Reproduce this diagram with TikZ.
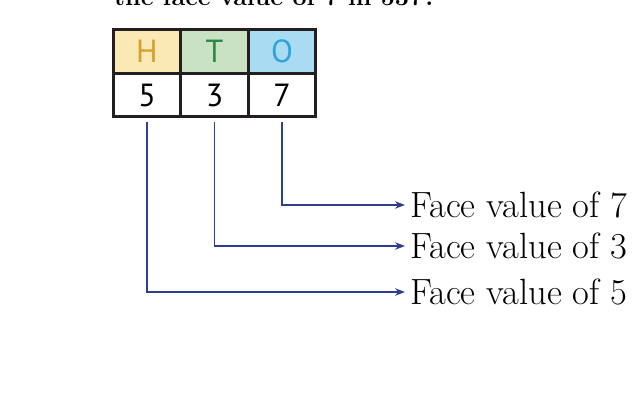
\documentclass[tikz,border=0pt]{standalone}
\usepackage{fontspec}
\newfontfamily\cellfont{PT Sans}
\usetikzlibrary{arrows.meta}

\definecolor{cellline}{HTML}{231F20}
\definecolor{hfill}{HTML}{FBE9B5}
\definecolor{htext}{HTML}{D4A02A}
\definecolor{tfill}{HTML}{C8E2C3}
\definecolor{ttext}{HTML}{2A8A45}
\definecolor{ofill}{HTML}{A9DCF3}
\definecolor{otext}{HTML}{2FA3DC}
\definecolor{pointer}{HTML}{2E3F8E}

\begin{document}
\begin{tikzpicture}[x=1pt, y=-1pt,
    cell/.style={draw=cellline, line width=3pt, minimum width=67.5pt, minimum height=43.5pt, inner sep=0pt, font=\cellfont\fontsize{32}{32}\selectfont},
    facelabel/.style={anchor=west, inner xsep=5pt, inner ysep=1pt, font=\fontsize{36.5}{39}\selectfont},
    pointerline/.style={pointer, line width=1.1pt, -{Stealth[length=10pt, width=7.5pt]}}]
    \clip (0,0) rectangle (638,410);
    \fill[white] (0,0) rectangle (638,410);
    % question text, cut at the top edge
    \node[anchor=base west, inner sep=0pt, font=\bfseries\fontsize{25}{25}\selectfont] (question) at (114,5) {the face value of 7 in 537?};
    % place value table
    \node[cell, fill=hfill, text=htext] (h) at (147,51.5) {H};
    \node[cell, fill=tfill, text=ttext] (t) at (214.5,51.5) {T};
    \node[cell, fill=ofill, text=otext] (o) at (282,51.5) {O};
    \node[cell] (d5) at (147,95) {5};
    \node[cell] (d3) at (214.5,95) {3};
    \node[cell] (d7) at (282,95) {7};
    % face value labels
    \node[facelabel] (f7) at (405,205) {Face value of 7};
    \node[facelabel] (f3) at (405,246) {Face value of 3};
    \node[facelabel] (f5) at (405,292) {Face value of 5};
    \draw[pointerline] ([yshift=-4pt]d7.south) |- (f7.west);
    \draw[pointerline] ([yshift=-4pt]d3.south) |- (f3.west);
    \draw[pointerline] ([yshift=-4pt]d5.south) |- (f5.west);
\end{tikzpicture}
\end{document}
